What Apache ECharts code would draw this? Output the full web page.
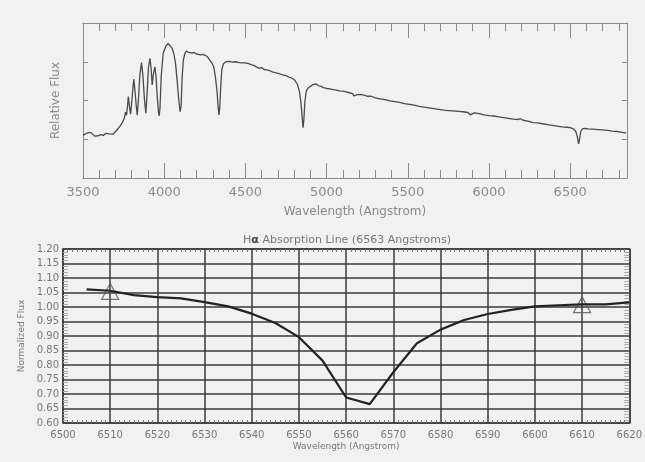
<!DOCTYPE html>
<html>
<head>
<meta charset="utf-8">
<script src="https://cdn.jsdelivr.net/npm/echarts@6/dist/echarts.min.js"></script>
<style>
  html, body { margin: 0; padding: 0; background: #f1f1f1; }
  #chart { width: 645px; height: 462px; }
</style>
</head>
<body>
<div id="chart"></div>
<script>
// ---- Top panel: full spectrum ----
const specWave = [3500,3510,3525,3540,3555,3570,3580,3595,3610,3625,3640,3650,3660,3670,3685,3700,3715,3730,3745,3755,3762,3768,3774,3779,3786,3793,3800,3807,3813,3820,3828,3834,3841,3850,3860,3868,3878,3887,3895,3903,3912,3919,3926,3934,3943,3950,3958,3965,3969,3974,3982,3994,4010,4025,4035,4048,4060,4070,4080,4090,4098,4104,4110,4118,4128,4137,4150,4160,4172,4185,4199,4210,4225,4240,4255,4268,4280,4292,4305,4315,4325,4331,4337,4342,4348,4355,4365,4380,4400,4420,4440,4460,4480,4500,4520,4540,4555,4570,4585,4600,4615,4630,4650,4670,4690,4710,4730,4750,4770,4790,4805,4820,4832,4842,4850,4855,4860,4866,4875,4888,4900,4915,4935,4950,4965,4980,5000,5020,5040,5060,5080,5100,5120,5140,5160,5168,5175,5190,5210,5230,5250,5262,5275,5300,5330,5360,5390,5420,5450,5480,5510,5540,5570,5600,5630,5660,5690,5720,5750,5780,5810,5840,5870,5885,5895,5910,5940,5970,6000,6030,6060,6090,6120,6150,6180,6195,6210,6240,6270,6280,6300,6330,6360,6390,6420,6450,6480,6500,6520,6535,6545,6552,6558,6565,6575,6590,6610,6640,6670,6700,6730,6760,6790,6820,6845];
const specFlux = [1.10,1.12,1.16,1.18,1.15,1.08,1.05,1.09,1.12,1.10,1.15,1.18,1.14,1.17,1.13,1.20,1.27,1.35,1.45,1.55,1.70,1.62,1.85,2.10,1.85,1.65,1.95,2.30,2.55,2.25,1.85,1.63,2.00,2.65,2.98,2.70,2.05,1.67,2.20,2.85,3.09,2.85,2.40,2.70,2.87,2.60,2.05,1.70,1.60,1.80,2.65,3.22,3.40,3.47,3.45,3.35,3.20,2.95,2.50,2.00,1.71,1.85,2.55,3.05,3.22,3.28,3.24,3.26,3.22,3.24,3.20,3.22,3.18,3.19,3.16,3.12,3.05,2.98,2.87,2.62,2.25,1.90,1.63,1.80,2.35,2.80,2.95,3.00,3.01,2.99,3.00,2.98,2.97,2.97,2.95,2.92,2.90,2.86,2.83,2.85,2.80,2.79,2.77,2.73,2.71,2.69,2.66,2.64,2.60,2.57,2.52,2.42,2.25,1.95,1.55,1.30,1.50,1.95,2.25,2.33,2.38,2.41,2.43,2.38,2.37,2.33,2.31,2.30,2.28,2.27,2.25,2.24,2.22,2.20,2.18,2.12,2.17,2.15,2.16,2.14,2.11,2.06,2.11,2.07,2.04,2.02,1.99,1.97,1.95,1.92,1.90,1.88,1.85,1.83,1.81,1.79,1.77,1.75,1.74,1.73,1.72,1.71,1.69,1.63,1.67,1.68,1.66,1.63,1.61,1.60,1.58,1.56,1.54,1.52,1.51,1.53,1.49,1.47,1.43,1.40,1.42,1.40,1.38,1.36,1.34,1.32,1.31,1.30,1.27,1.20,1.05,0.88,1.00,1.20,1.27,1.28,1.27,1.26,1.25,1.24,1.23,1.21,1.20,1.18,1.16];

// ---- Bottom panel: H-alpha line ----
const haWave = [6505,6510,6515,6520,6525,6530,6535,6540,6545,6550,6555,6560,6565,6570,6575,6580,6585,6590,6595,6600,6605,6610,6615,6620];
const haFlux = [1.061,1.056,1.041,1.034,1.030,1.017,1.002,0.977,0.945,0.896,0.815,0.688,0.665,0.775,0.875,0.922,0.955,0.976,0.990,1.002,1.006,1.009,1.009,1.016];
const markerWave = [6510, 6610];
const markerFlux = [1.054, 1.008];

const FONT = 'DejaVu Sans';
const grey = '#8a8a8a';
const dark = '#3a3a3a';

const chart = echarts.init(document.getElementById('chart'), null, {renderer: 'canvas'});

function topX(position, interval, len, withLabels) {
  return {
    type: 'value', gridIndex: 0, position: position, min: 3500, max: 6850, interval: interval,
    axisLine: {show: true, onZero: false, lineStyle: {color: grey, width: 1}},
    axisTick: {show: true, inside: true, length: len, lineStyle: {color: grey, width: 1}},
    axisLabel: withLabels ? {show: true, margin: 8, color: grey, fontFamily: FONT, fontSize: 13,
      formatter: v => (v % 500 === 0 ? String(v) : '')} : {show: false},
    splitLine: {show: false},
    name: withLabels ? 'Wavelength (Angstrom)' : '',
    nameLocation: 'middle', nameGap: 28,
    nameTextStyle: {color: grey, fontFamily: FONT, fontSize: 12}
  };
}
function topY(position, withName) {
  return {
    type: 'value', gridIndex: 0, position: position, min: 0, max: 4, interval: 1,
    axisLine: {show: true, onZero: false, lineStyle: {color: grey, width: 1}},
    axisTick: {show: true, inside: true, length: 5, lineStyle: {color: grey}},
    axisLabel: {show: false},
    splitLine: {show: false},
    name: withName ? 'Relative Flux' : '',
    nameLocation: 'middle', nameGap: 21,
    nameTextStyle: {color: grey, fontFamily: FONT, fontSize: 12}
  };
}
function botX(position, withLabels) {
  return {
    type: 'value', gridIndex: 1, position: position, min: 6500, max: 6620, interval: 10,
    axisLine: {show: true, onZero: false, lineStyle: {color: dark, width: 1.5}},
    axisTick: {show: false, inside: true},
    minorTick: {show: true, splitNumber: 10, length: 3, lineStyle: {color: '#777', width: 1}},
    axisLabel: withLabels ? {show: true, margin: 7, color: '#777', fontFamily: FONT, fontSize: 10,
      formatter: v => String(v)} : {show: false},
    splitLine: withLabels ? {show: true, lineStyle: {color: dark, width: 1.5}} : {show: false},
    name: withLabels ? 'Wavelength (Angstrom)' : '',
    nameLocation: 'middle', nameGap: 19,
    nameTextStyle: {color: '#777', fontFamily: FONT, fontSize: 9}
  };
}
function botY(position, withLabels) {
  return {
    type: 'value', gridIndex: 1, position: position, min: 0.6, max: 1.2, interval: 0.05,
    axisLine: {show: true, onZero: false, lineStyle: {color: dark, width: 1.5}},
    axisTick: {show: false, inside: true},
    minorTick: {show: true, splitNumber: 5, length: 5, lineStyle: {color: '#aaa', width: 1}},
    axisLabel: withLabels ? {show: true, margin: 4, color: '#777', fontFamily: FONT, fontSize: 10,
      formatter: v => v.toFixed(2)} : {show: false},
    splitLine: withLabels ? {show: true, lineStyle: {color: dark, width: 1.5}} : {show: false},
    name: withLabels ? 'Normalized Flux' : '',
    nameLocation: 'middle', nameGap: 33,
    nameTextStyle: {color: '#777', fontFamily: FONT, fontSize: 9}
  };
}

const option = {
  backgroundColor: '#f1f1f1',
  animation: false,
  grid: [
    {left: 83, top: 23, width: 544, height: 155, containLabel: false},
    {left: 63, top: 249, width: 569, height: 174, containLabel: false}
  ],
  graphic: [{
    type: 'text', x: 347, y: 240,
    style: {
      text: '{n|H}{b|α}{n| Absorption Line (6563 Angstroms)}',
      align: 'center', verticalAlign: 'middle',
      rich: {
        n: {fontSize: 11, fontFamily: FONT, fill: '#777'},
        b: {fontSize: 11, fontFamily: FONT, fontWeight: 'bold', fill: '#444'}
      }
    }
  }],
  xAxis: [
    topX('bottom', 500, 15, true),
    topX('bottom', 100, 8, false),
    topX('top', 500, 15, false),
    topX('top', 100, 8, false),
    botX('bottom', true),
    botX('top', false)
  ],
  yAxis: [
    topY('left', true),
    topY('right', false),
    botY('left', true),
    botY('right', false)
  ],
  series: [
    {
      type: 'line', xAxisIndex: 0, yAxisIndex: 0, showSymbol: false, silent: true,
      data: specWave.map((w, i) => [w, specFlux[i]]),
      lineStyle: {color: '#4a4a4a', width: 1.3}
    },
    {
      type: 'line', xAxisIndex: 4, yAxisIndex: 2, showSymbol: false, silent: true,
      data: haWave.map((w, i) => [w, haFlux[i]]),
      lineStyle: {color: '#222', width: 2.2}
    },
    {
      type: 'scatter', xAxisIndex: 4, yAxisIndex: 2, silent: true,
      symbol: 'triangle', symbolSize: [17, 16],
      data: markerWave.map((w, i) => [w, markerFlux[i]]),
      itemStyle: {color: 'rgba(0,0,0,0)', borderColor: '#555', borderWidth: 1.2}
    }
  ]
};
chart.setOption(option);
</script>
</body>
</html>
